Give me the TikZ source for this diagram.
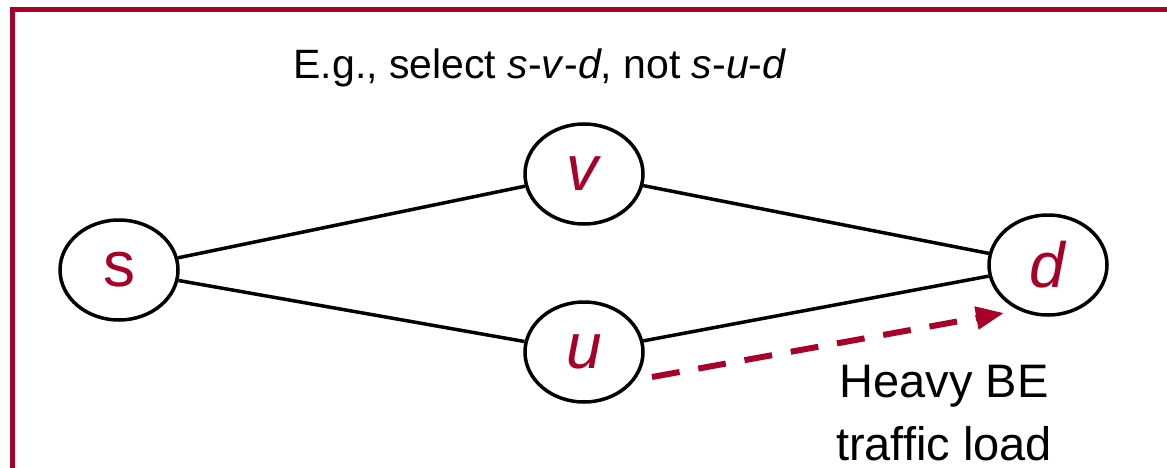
\documentclass[tikz,border=0pt]{standalone}
\usepackage{fontspec}
\setmainfont{Liberation Sans}
\usetikzlibrary{shapes.geometric,arrows.meta}
\definecolor{dred}{RGB}{168,0,40}
\begin{document}
\begin{tikzpicture}[x=1pt,y=-1pt,
  vertex/.style={draw=black,line width=3.5pt,ellipse,minimum width=118pt,minimum height=100pt,inner sep=0pt,
     text=dred,font=\fontsize{64}{64}\selectfont},
  link/.style={draw=black,line width=3.5pt},
  heavy/.style={draw=dred,line width=6pt,dash pattern=on 28pt off 19pt,
     -{Triangle[length=28pt,width=22pt]}}]
\useasboundingbox (0,0) rectangle (1167,468);
\begin{scope}
\clip (0,0) rectangle (1167,468);
\draw[dred,line width=5pt] (12,10) rectangle (1200,500);
\end{scope}
\node[font=\fontsize{41}{49}\selectfont] (title) at (540,68) {E.g., select \textit{s}-\textit{v}-\textit{d}, not \textit{s}-\textit{u}-\textit{d}};
\node[vertex] (s) at (119,270) {s};
\node[vertex] (v) at (584,174) {\textit{v}};
\node[vertex] (u) at (584,352) {\textit{u}};
\node[vertex] (d) at (1048,265) {\textit{d}};
\draw[link] (s) -- (v);
\draw[link] (s) -- (u);
\draw[link] (v) -- (d);
\draw[link] (u) -- (d);
\coordinate (a0) at (652,377);
\coordinate (a1) at (1004,313);
\draw[heavy] (a0) -- (a1);
\node[font=\fontsize{47}{63}\selectfont,align=center,anchor=base] (lbl) at (944,460) {Heavy BE\\traffic load};
\end{tikzpicture}
\end{document}
